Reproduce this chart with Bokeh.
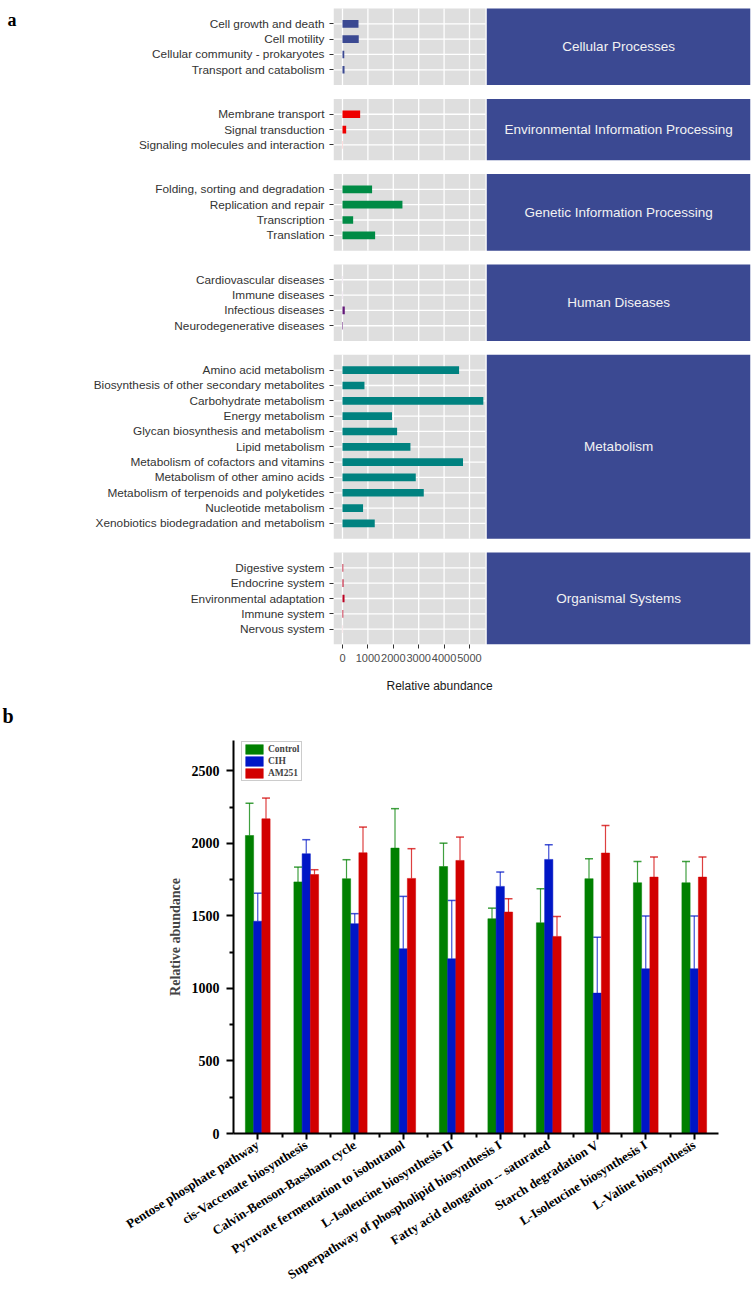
import math
from bokeh.plotting import figure
from bokeh.models import (Range1d, FixedTicker, ColumnDataSource, Whisker, Title,
                          TeeHead, Legend, LegendItem, LinearAxis)
from bokeh.transform import dodge
from bokeh.embed import file_html
from bokeh.resources import INLINE
from bokeh.core.properties import value

# ---------------- Panel a data ----------------
panel_names = ["Cellular Processes", "Environmental Information Processing",
               "Genetic Information Processing", "Human Diseases", "Metabolism",
               "Organismal Systems"]
panel_colors = ["#3B4992", "#EE0000", "#008B45", "#631879", "#008280", "#BB0021"]

cellular = ["Cell growth and death", "Cell motility",
            "Cellular community - prokaryotes", "Transport and catabolism"]
cellular_values = [630, 640, 70, 80]
environmental = ["Membrane transport", "Signal transduction",
                 "Signaling molecules and interaction"]
environmental_values = [695, 145, 5]
genetic = ["Folding, sorting and degradation", "Replication and repair",
           "Transcription", "Translation"]
genetic_values = [1165, 2360, 420, 1285]
human = ["Cardiovascular diseases", "Immune diseases", "Infectious diseases",
         "Neurodegenerative diseases"]
human_values = [3, 3, 90, 20]
metabolism = ["Amino acid metabolism", "Biosynthesis of other secondary metabolites",
              "Carbohydrate metabolism", "Energy metabolism",
              "Glycan biosynthesis and metabolism", "Lipid metabolism",
              "Metabolism of cofactors and vitamins", "Metabolism of other amino acids",
              "Metabolism of terpenoids and polyketides", "Nucleotide metabolism",
              "Xenobiotics biodegradation and metabolism"]
metabolism_values = [4590, 865, 5545, 1950, 2150, 2675, 4745, 2885, 3200, 810, 1270]
organismal = ["Digestive system", "Endocrine system", "Environmental adaptation",
              "Immune system", "Nervous system"]
organismal_values = [30, 40, 80, 30, 3]
x_ticks_a = [0, 1000, 2000, 3000, 4000, 5000]

# ---------------- Panel b data ----------------
pathways = ["Pentose phosphate pathway", "cis-Vaccenate biosynthesis",
            "Calvin-Benson-Bassham cycle", "Pyruvate fermentation to isobutanol",
            "L-Isoleucine biosynthesis II", "Superpathway of phospholipid biosynthesis I",
            "Fatty acid elongation -- saturated", "Starch degradation V",
            "L-Isoleucine biosynthesis I", "L-Valine biosynthesis"]
control = [2055, 1735, 1757, 1968, 1841, 1481, 1453, 1757, 1729, 1729]
control_err = [223, 102, 131, 272, 161, 73, 235, 138, 147, 147]
cih = [1464, 1929, 1447, 1274, 1205, 1704, 1890, 968, 1136, 1136]
cih_err = [193, 97, 69, 361, 402, 99, 101, 386, 363, 363]
am251 = [2170, 1786, 1936, 1759, 1883, 1527, 1359, 1934, 1768, 1768]
am251_err = [143, 33, 177, 205, 161, 92, 138, 190, 138, 138]
groups_b = ["Control", "CIH", "AM251"]
colors_b = ["#008000", "#0016C6", "#D20000"]
y_ticks_b = [0, 500, 1000, 1500, 2000, 2500]
y_minor_b = [250, 750, 1250, 1750, 2250]

SANS = "Liberation Sans"
SERIF = "Liberation Serif"

# ================= Figure a =================
categories_a = [cellular, environmental, genetic, human, metabolism, organismal]
values_a = [cellular_values, environmental_values, genetic_values, human_values,
            metabolism_values, organismal_values]

ROW = 10
GAP = 9
ys, labels, vals, cols = [], {}, [], []
tops, bottoms = [], []
t = 0
for k, (names, vv) in enumerate(zip(categories_a, values_a)):
    tops.append(t)
    for i, (n, v) in enumerate(zip(names, vv)):
        y = t + ROW * (i + 1)
        ys.append(y)
        labels[y] = n
        vals.append(v)
        cols.append(panel_colors[k])
    b = t + ROW * (len(names) + 1)
    bottoms.append(b)
    t = b + GAP
Y_TOTAL = bottoms[-1]

W = 751
H_A = 728
FL_A = 333          # frame left
FR_A = 750          # frame right
FB_A = 645          # frame bottom (canvas px)
PANEL_TOP_PX = 8
X0 = -354
PX_PER_UNIT = 25.4 / 1000.0
X1 = X0 + (FR_A - FL_A) / PX_PER_UNIT
GREY_R = 5630
STRIP_L = 5680
Y_TOP = -PANEL_TOP_PX * Y_TOTAL / (FB_A - PANEL_TOP_PX)   # white margin above first panel

pa = figure(width=W, height=H_A, output_backend="svg", toolbar_location=None,
            x_range=Range1d(X0, X1), y_range=Range1d(Y_TOTAL, Y_TOP),
            min_border_left=FL_A, min_border_right=W - FR_A, min_border_top=0,
            min_border_bottom=H_A - FB_A)
pa.outline_line_color = None
pa.xgrid.grid_line_color = None
pa.ygrid.grid_line_color = None
pa.background_fill_color = "white"

# panel backgrounds
pa.quad(left=X0, right=GREY_R, top=tops, bottom=bottoms, fill_color="#DEDEDE",
        line_color=None)
# white grid lines
gx0, gy0, gx1, gy1 = [], [], [], []
for tp, bt in zip(tops, bottoms):
    for xv in x_ticks_a:
        gx0.append(xv); gx1.append(xv); gy0.append(tp); gy1.append(bt)
for y in ys:
    gx0.append(X0); gx1.append(GREY_R); gy0.append(y); gy1.append(y)
pa.segment(x0=gx0, y0=gy0, x1=gx1, y1=gy1, line_color="white", line_width=1.3)

# bars
pa.hbar(y=ys, left=0, right=vals, height=ROW * 0.5, fill_color=cols, line_color=None)

# strips
pa.quad(left=STRIP_L, right=X1, top=tops, bottom=bottoms, fill_color="#3B4992",
        line_color=None)
mids = [(a + b) / 2 for a, b in zip(tops, bottoms)]
pa.text(x=[(STRIP_L + X1) / 2] * len(mids), y=mids, text=panel_names,
        text_align="center", text_baseline="middle", text_color="#F2F2F2",
        text_font=value(SANS), text_font_size="13.5px")

ya = pa.yaxis[0]
ya.ticker = FixedTicker(ticks=ys, minor_ticks=[])
ya.major_label_overrides = labels
ya.axis_line_color = None
ya.major_tick_out = 4
ya.major_tick_in = 0
ya.major_tick_line_color = "#333333"
ya.major_label_standoff = 5
ya.major_label_text_font = SANS
ya.major_label_text_font_size = "11.8px"
ya.major_label_text_color = "#333333"

# panel tag "a" carried by an outer left axis with a single tick
TAG_Y = Y_TOP * 0.98
tag_a = LinearAxis(ticker=FixedTicker(ticks=[TAG_Y], minor_ticks=[]),
                   major_label_overrides={TAG_Y: "a"}, axis_line_color=None,
                   major_tick_line_color=None, major_label_standoff=68,
                   major_label_text_font=SERIF, major_label_text_font_style="bold",
                   major_label_text_font_size="18px", major_label_text_color="black")
pa.add_layout(tag_a, "left")

xa = pa.xaxis[0]
xa.ticker = FixedTicker(ticks=x_ticks_a, minor_ticks=[])
xa.axis_line_color = None
xa.major_tick_out = 4
xa.major_tick_in = 0
xa.major_tick_line_color = "#333333"
xa.major_label_standoff = 5
xa.major_label_text_font = SANS
xa.major_label_text_font_size = "11px"
xa.major_label_text_color = "#4D4D4D"

pa.add_layout(Title(text="Relative abundance", align="left", offset=53, standoff=24,
                    vertical_align="bottom", text_font=SANS, text_font_style="normal",
                    text_font_size="12px", text_color="#1A1A1A"), "below")
# panel tag "b" sits just under panel a
pa.add_layout(Title(text="b", align="left", offset=-(FL_A - 2), standoff=0,
                    vertical_align="top", text_font=SERIF, text_font_style="bold",
                    text_font_size="20px", text_color="black"), "below")

# ================= Figure b =================
idx = list(range(len(pathways)))
src = ColumnDataSource(dict(
    idx=idx,
    control=control, control_hi=[v + e for v, e in zip(control, control_err)],
    cih=cih, cih_hi=[v + e for v, e in zip(cih, cih_err)],
    am251=am251, am251_hi=[v + e for v, e in zip(am251, am251_err)],
))

H_B = 1291 - H_A
FL_B, FR_B = 233, 718
FT_B = 740 - H_A
FB_B = 1133 - H_A
pb = figure(width=W, height=H_B, output_backend="svg", toolbar_location=None,
            x_range=Range1d(-0.5, len(pathways) - 0.5), y_range=Range1d(0, 2710),
            min_border_left=FL_B, min_border_right=W - FR_B, min_border_top=FT_B,
            min_border_bottom=H_B - FB_B)
pb.outline_line_color = None
pb.xgrid.grid_line_color = None
pb.ygrid.grid_line_color = None

BW = 0.17
offsets = [-BW, 0.0, BW]
fields = ["control", "cih", "am251"]
renderers = []
for f, off, c in zip(fields, offsets, colors_b):
    wk = Whisker(source=src, base=dodge("idx", off, range=pb.x_range),
                 lower=f, upper=f + "_hi", dimension="height",
                 line_color=c, line_alpha=0.75, line_width=1.2,
                 upper_head=TeeHead(size=8, line_color=c, line_alpha=0.75, line_width=1.5),
                 lower_head=None)
    pb.add_layout(wk)
    r = pb.vbar(x=dodge("idx", off, range=pb.x_range), top=f, bottom=0, width=BW,
                source=src, fill_color=c, line_color=c, line_width=0.5)
    renderers.append(r)

legend = Legend(items=[LegendItem(label=g, renderers=[r]) for g, r in zip(groups_b, renderers)],
                location=(8, 352), glyph_width=22, glyph_height=12, label_height=12,
                spacing=0, padding=1, margin=0, label_standoff=3,
                label_text_font=SERIF, label_text_font_style="bold",
                label_text_font_size="9.5px", border_line_color="#9A9A9A",
                border_line_width=1, background_fill_color="white")
pb.add_layout(legend)

yb = pb.yaxis[0]
yb.ticker = FixedTicker(ticks=y_ticks_b, minor_ticks=y_minor_b)
yb.axis_line_width = 2
yb.major_tick_line_width = 2
yb.minor_tick_line_width = 2
yb.major_tick_out = 7
yb.major_tick_in = 0
yb.minor_tick_out = 4
yb.minor_tick_in = 0
yb.major_label_standoff = 7
yb.major_label_text_font = SERIF
yb.major_label_text_font_style = "bold"
yb.major_label_text_font_size = "14px"
yb.major_label_text_color = "black"
yb.axis_label = "Relative abundance"
yb.axis_label_text_font = SERIF
yb.axis_label_text_font_style = "bold"
yb.axis_label_text_font_size = "14px"
yb.axis_label_standoff = 6

xb = pb.xaxis[0]
xb.ticker = FixedTicker(ticks=idx, minor_ticks=[i + 0.5 for i in idx[:-1]])
xb.major_label_overrides = {i: n for i, n in zip(idx, pathways)}
xb.major_label_orientation = math.radians(32)
xb.axis_line_width = 2
xb.major_tick_line_width = 2
xb.minor_tick_line_width = 2
xb.major_tick_out = 6
xb.major_tick_in = 0
xb.minor_tick_out = 4
xb.minor_tick_in = 0
xb.major_label_standoff = 4
xb.major_label_text_font = SERIF
xb.major_label_text_font_style = "bold"
xb.major_label_text_font_size = "13px"
xb.major_label_text_color = "black"

open("out.html", "w").write(file_html([pa, pb], INLINE))
